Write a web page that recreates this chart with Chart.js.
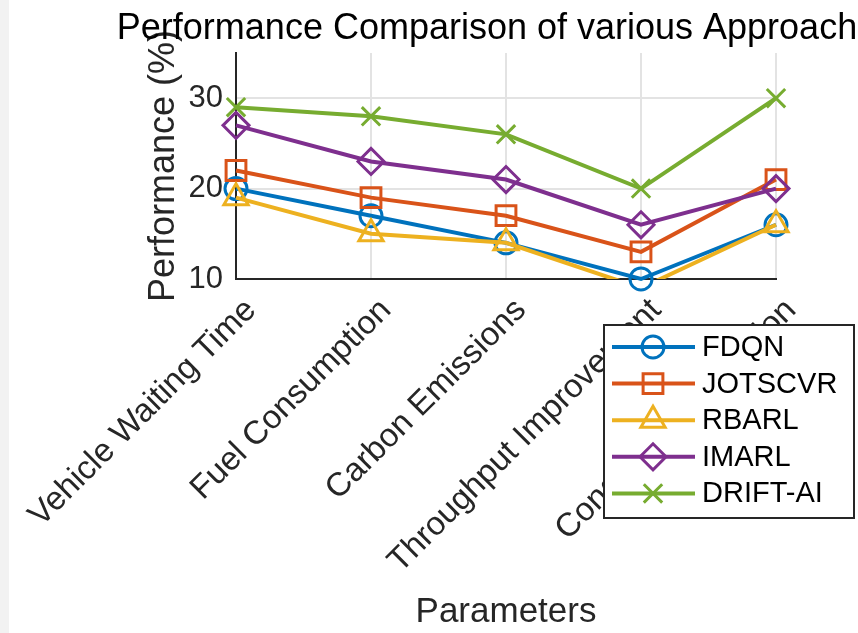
<!DOCTYPE html>
<html>
<head>
<meta charset="utf-8">
<script src="https://cdn.jsdelivr.net/npm/chart.js@4/dist/chart.umd.min.js"></script>
<style>
  html, body { margin: 0; padding: 0; background: #fff; }
  #wrap { position: relative; width: 858px; height: 633px; }
  #strip { position: absolute; left: 0; top: 0; width: 9px; height: 633px; background: #f2f2f2; }
  canvas { position: absolute; left: 0; top: 0; }
</style>
</head>
<body>
<div id="wrap">
  <div id="strip"></div>
  <canvas id="myChart" width="858" height="633"></canvas>
</div>
<script>
var categories = ['Vehicle Waiting Time', 'Fuel Consumption', 'Carbon Emissions', 'Throughput Improvement', 'Congestion Reduction'];
var seriesNames = ['FDQN', 'JOTSCVR', 'RBARL', 'IMARL', 'DRIFT-AI'];
var fdqn = [20, 17, 14, 10, 16];
var jotscvr = [22, 19, 17, 13, 21];
var rbarl = [19, 15, 14, 9, 16];
var imarl = [27, 23, 21, 16, 20];
var driftAi = [29, 28, 26, 20, 30];
var yTicks = [10, 20, 30];
var yMin = 10;
var yMax = 35;
var chartTitle = 'Performance Comparison of various Approaches';

var colors = ['#0072BD', '#D95319', '#EDB120', '#7E2F8E', '#77AC30'];
var markers = ['circle', 'rect', 'triangle', 'rectRot', 'crossRot'];
var markerSizes = [11, 14, 14, 13, 13];
var fontFamily = '"Liberation Sans", Arial, Helvetica, sans-serif';

function makeDataset(i, values) {
  return {
    label: seriesNames[i],
    data: values,
    borderColor: colors[i],
    backgroundColor: colors[i],
    borderWidth: 4,
    pointStyle: markers[i],
    // hide markers that fall outside the axes, like matlab does
    pointRadius: function(ctx) {
      var v = ctx.raw;
      return (v < yMin || v > yMax) ? 0 : markerSizes[i];
    },
    pointHoverRadius: markerSizes[i],
    pointBorderWidth: 3,
    pointBorderColor: colors[i],
    pointBackgroundColor: 'rgba(0,0,0,0)',
    tension: 0,
    order: 4 - i,
    clip: {left: 40, top: 40, right: 40, bottom: i === 2 ? 0 : 40}
  };
}

// title drawn by hand: it is wider than the plot and runs off the canvas
var wideTitle = {
  id: 'wideTitle',
  afterDraw: function(chart) {
    var ctx = chart.ctx;
    var area = chart.chartArea;
    ctx.save();
    ctx.font = '36px ' + fontFamily;
    ctx.fillStyle = '#000';
    ctx.textAlign = 'center';
    ctx.textBaseline = 'alphabetic';
    ctx.fillText(chartTitle, (area.left + area.right) / 2, 39);
    ctx.restore();
  }
};

// legend drawn by hand so it can sit over the tick labels
var boxLegend = {
  id: 'boxLegend',
  afterDraw: function(chart) {
    var ctx = chart.ctx;
    var x = 604, y = 325, w = 250, h = 193;
    ctx.save();
    ctx.fillStyle = '#fff';
    ctx.fillRect(x, y, w, h);
    ctx.strokeStyle = '#262626';
    ctx.lineWidth = 2;
    ctx.strokeRect(x, y, w, h);
    ctx.font = '29px ' + fontFamily;
    ctx.textBaseline = 'middle';
    ctx.textAlign = 'left';
    chart.data.datasets.forEach(function(ds, i) {
      var rowY = y + 22 + i * 36.6;
      ctx.strokeStyle = ds.borderColor;
      ctx.lineWidth = 4;
      ctx.beginPath();
      ctx.moveTo(x + 8, rowY);
      ctx.lineTo(x + 91, rowY);
      ctx.stroke();
      ctx.lineWidth = 3;
      ctx.fillStyle = 'rgba(0,0,0,0)';
      Chart.helpers.drawPoint(ctx, {
        pointStyle: ds.pointStyle, radius: markerSizes[i], rotation: 0, borderWidth: 3
      }, x + 49, rowY);
      ctx.fillStyle = '#000';
      ctx.fillText(ds.label, x + 98, rowY + 1);
    });
    ctx.restore();
  }
};

window.onload = function() {
  var ctx = document.getElementById('myChart').getContext('2d');
  new Chart(ctx, {
    type: 'line',
    data: {
      labels: categories,
      datasets: [
        makeDataset(0, fdqn),
        makeDataset(1, jotscvr),
        makeDataset(2, rbarl),
        makeDataset(3, imarl),
        makeDataset(4, driftAi)
      ]
    },
    options: {
      responsive: false,
      animation: false,
      layout: { padding: { left: 0, right: 82, top: 53, bottom: 0 } },
      plugins: {
        legend: { display: false },
        tooltip: { enabled: false },
        title: { display: false }
      },
      scales: {
        x: {
          type: 'category',
          offset: false,
          grid: { color: '#e3e3e3', lineWidth: 2, drawTicks: false },
          border: { display: true, color: '#262626', width: 2 },
          ticks: {
            color: '#262626',
            minRotation: 45,
            maxRotation: 45,
            autoSkip: false,
            padding: 12,
            labelOffset: 15,
            font: { family: fontFamily, size: 33 }
          },
          title: {
            display: true,
            text: 'Parameters',
            color: '#262626',
            font: { family: fontFamily, size: 35, lineHeight: 1.2 },
            padding: { top: 0, bottom: 0 }
          },
          afterFit: function(scale) {
            scale.height = 354;
            scale.paddingLeft = 0;
            scale.paddingRight = 0;
          }
        },
        y: {
          min: yMin,
          max: yMax,
          grid: { color: '#e3e3e3', lineWidth: 2, drawTicks: false },
          border: { display: true, color: '#262626', width: 2 },
          ticks: {
            color: '#262626',
            padding: 13,
            font: { family: fontFamily, size: 31 }
          },
          afterBuildTicks: function(scale) {
            scale.ticks = yTicks.map(function(v) { return { value: v }; });
          },
          title: {
            display: true,
            text: 'Performance (%)',
            color: '#262626',
            font: { family: fontFamily, size: 36, lineHeight: 1.2 },
            padding: { top: 142, bottom: 0 }
          },
          afterFit: function(scale) {
            scale.width = 236;
            scale.paddingTop = 0;
            scale.paddingBottom = 0;
          }
        }
      }
    },
    plugins: [wideTitle, boxLegend]
  });
};
</script>
</body>
</html>
